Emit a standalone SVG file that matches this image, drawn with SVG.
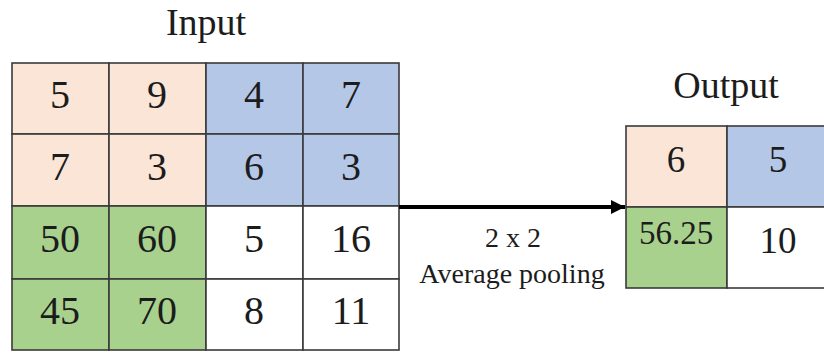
<svg xmlns="http://www.w3.org/2000/svg" width="824" height="353" viewBox="0 0 824 353" font-family="Liberation Serif, DejaVu Serif, serif">
<style>
text{fill:#1c1c1c;text-anchor:middle}
.c{stroke:#3a3a3a;stroke-width:1.6}
.p{fill:#fbe5d6}.b{fill:#b4c7e7}.g{fill:#a9d18e}.w{fill:#ffffff}
.n{font-size:40px}.o{font-size:37px}.t{font-size:38px}.l{font-size:28px}
</style>
<defs>
<marker id="ah" viewBox="0 0 10 10" refX="10" refY="5" markerWidth="3.6" markerHeight="3.6" orient="auto" markerUnits="strokeWidth">
<path d="M0,0 L10,5 L0,10 z" fill="#000"/>
</marker>
</defs>
<rect width="824" height="353" fill="#fff"/>
<g id="input-title"><text class="t" x="206" y="35">Input</text></g>
<g id="output-title"><text class="t" x="726" y="98">Output</text></g>
<g id="input">
<g id="in-r0c0"><rect class="c p" x="12" y="63" width="97" height="71"/><text class="n" x="60" y="108">5</text></g>
<g id="in-r0c1"><rect class="c p" x="109" y="63" width="97" height="71"/><text class="n" x="157" y="108">9</text></g>
<g id="in-r0c2"><rect class="c b" x="206" y="63" width="97" height="71"/><text class="n" x="254" y="108">4</text></g>
<g id="in-r0c3"><rect class="c b" x="303" y="63" width="96" height="71"/><text class="n" x="351" y="108">7</text></g>
<g id="in-r1c0"><rect class="c p" x="12" y="134" width="97" height="72"/><text class="n" x="60" y="180">7</text></g>
<g id="in-r1c1"><rect class="c p" x="109" y="134" width="97" height="72"/><text class="n" x="157" y="180">3</text></g>
<g id="in-r1c2"><rect class="c b" x="206" y="134" width="97" height="72"/><text class="n" x="254" y="180">6</text></g>
<g id="in-r1c3"><rect class="c b" x="303" y="134" width="96" height="72"/><text class="n" x="351" y="180">3</text></g>
<g id="in-r2c0"><rect class="c g" x="12" y="206" width="97" height="73"/><text class="n" x="60" y="252">50</text></g>
<g id="in-r2c1"><rect class="c g" x="109" y="206" width="97" height="73"/><text class="n" x="157" y="252">60</text></g>
<g id="in-r2c2"><rect class="c w" x="206" y="206" width="97" height="73"/><text class="n" x="254" y="252">5</text></g>
<g id="in-r2c3"><rect class="c w" x="303" y="206" width="96" height="73"/><text class="n" x="351" y="252">16</text></g>
<g id="in-r3c0"><rect class="c g" x="12" y="279" width="97" height="71"/><text class="n" x="60" y="324">45</text></g>
<g id="in-r3c1"><rect class="c g" x="109" y="279" width="97" height="71"/><text class="n" x="157" y="324">70</text></g>
<g id="in-r3c2"><rect class="c w" x="206" y="279" width="97" height="71"/><text class="n" x="254" y="324">8</text></g>
<g id="in-r3c3"><rect class="c w" x="303" y="279" width="96" height="71"/><text class="n" x="351" y="324">11</text></g>
</g>
<g id="output">
<g id="out-r0c0"><rect class="c p" x="626" y="126" width="101" height="81"/><text class="o" x="676" y="172">6</text></g>
<g id="out-r0c1"><rect class="c b" x="727" y="126" width="102" height="81"/><text class="o" x="778" y="172">5</text></g>
<g id="out-r1c0"><rect class="c g" x="626" y="207" width="101" height="81"/><text class="n" style="font-size:33px" x="676" y="244">56.25</text></g>
<g id="out-r1c1"><rect class="c w" x="727" y="207" width="102" height="81"/><text class="o" x="778" y="253">10</text></g>
</g>
<g id="connectors">
<line x1="399" y1="207" x2="625" y2="207" stroke="#000" stroke-width="4" marker-end="url(#ah)"/>
</g>
<g id="label">
<text class="l" x="513" y="247">2 x 2</text>
<text class="l" x="512" y="283">Average pooling</text>
</g>
</svg>
